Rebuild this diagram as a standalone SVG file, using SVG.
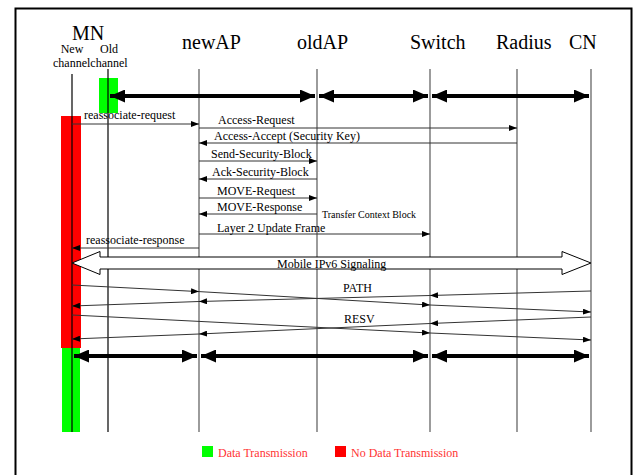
<svg xmlns="http://www.w3.org/2000/svg" width="635" height="475" viewBox="0 0 635 475">
<style>
text{font-family:"Liberation Serif","Times New Roman",serif;fill:#000}
.h{font-size:20px}
.s{font-size:12px}
.xs{font-size:10px}
.life{stroke:#666;stroke-width:1.3;fill:none}
.lifek{stroke:#000;stroke-width:1.2;fill:none}
.msg{stroke:#333;stroke-width:1;fill:none}
.thick{stroke:#000;stroke-width:4;fill:none}
.leg{fill:#ff3333;font-size:12px}
</style>
<defs>
<marker id="a" viewBox="0 0 8 6" refX="8" refY="3" markerWidth="8" markerHeight="6" markerUnits="userSpaceOnUse" orient="auto">
<path d="M0,0 L8,3 L0,6 z" fill="#000"/>
</marker>
<marker id="ta" viewBox="0 0 15 13" refX="15" refY="6.5" markerWidth="15" markerHeight="13" markerUnits="userSpaceOnUse" orient="auto-start-reverse">
<path d="M0,0 L15,6.5 L0,13 z" fill="#000"/>
</marker>
</defs>
<rect x="15.5" y="8.5" width="616" height="480" fill="none" stroke="#000" stroke-width="2"/>

<g id="state-bars">
<rect x="99" y="78" width="19" height="35" fill="#00ff00"/>
<rect x="61" y="116" width="20" height="232" fill="#ff0000"/>
<rect x="62" y="348" width="18" height="84" fill="#00ff00"/>
</g>

<g id="MN">
<text class="h" x="88" y="40" text-anchor="middle" font-size="21">MN</text>
<text class="s" x="72" y="53" text-anchor="middle">New</text>
<text class="s" x="109" y="53" text-anchor="middle">Old</text>
<text class="s" x="53" y="66.5">channelchannel</text>
<line class="lifek" x1="72" y1="74" x2="72" y2="432"/>
<line class="lifek" x1="108" y1="69" x2="108" y2="432" stroke="#222"/>
</g>
<g id="newAP">
<text class="h" x="182" y="49">newAP</text>
<line class="life" x1="199" y1="69" x2="199" y2="432" stroke="#444"/>
</g>
<g id="oldAP">
<text class="h" x="297" y="49">oldAP</text>
<line class="life" x1="317" y1="69" x2="317" y2="432"/>
</g>
<g id="Switch">
<text class="h" x="410" y="49">Switch</text>
<line class="life" x1="430" y1="69" x2="430" y2="432"/>
</g>
<g id="Radius">
<text class="h" x="496" y="49">Radius</text>
<line class="life" x1="517" y1="69" x2="517" y2="432"/>
</g>
<g id="CN">
<text class="h" x="569" y="49">CN</text>
<line class="life" x1="591" y1="69" x2="591" y2="432"/>
</g>

<g id="connectors">
<line class="thick" x1="110" y1="96" x2="315" y2="96" marker-start="url(#ta)" marker-end="url(#ta)"/>
<line class="thick" x1="319" y1="96" x2="428" y2="96" marker-start="url(#ta)" marker-end="url(#ta)"/>
<line class="thick" x1="432" y1="96" x2="589" y2="96" marker-start="url(#ta)" marker-end="url(#ta)"/>

<line class="msg" x1="72" y1="124" x2="199" y2="124" marker-end="url(#a)"/>
<text class="s" x="84" y="119">reassociate-request</text>
<line class="msg" x1="199" y1="128" x2="517" y2="128" marker-end="url(#a)"/>
<text class="s" x="218" y="124">Access-Request</text>
<line class="msg" x1="517" y1="143" x2="199" y2="143" marker-end="url(#a)"/>
<text class="s" x="214" y="140">Access-Accept (Security Key)</text>
<line class="msg" x1="199" y1="161" x2="317" y2="161" marker-end="url(#a)"/>
<text class="s" x="211" y="158">Send-Security-Block</text>
<line class="msg" x1="317" y1="179" x2="199" y2="179" marker-end="url(#a)"/>
<text class="s" x="212" y="176">Ack-Security-Block</text>
<line class="msg" x1="199" y1="198" x2="317" y2="198" marker-end="url(#a)"/>
<text class="s" x="217" y="195">MOVE-Request</text>
<line class="msg" x1="317" y1="214" x2="199" y2="214" marker-end="url(#a)"/>
<text class="s" x="217" y="211">MOVE-Response</text>
<text class="xs" x="322" y="218">Transfer Context Block</text>
<line class="msg" x1="199" y1="234" x2="430" y2="234" marker-end="url(#a)"/>
<text class="s" x="217" y="232">Layer 2 Update Frame</text>
<line class="msg" x1="199" y1="248" x2="72" y2="248" marker-end="url(#a)"/>
<text class="s" x="86" y="244">reassociate-response</text>

<polygon points="72,263 100,251.5 100,257 562,257 562,251.5 591,263 562,274.5 562,269 100,269 100,274.5" fill="#fff" stroke="#000" stroke-width="1"/>
<text class="s" x="277" y="268">Mobile IPv6 Signaling</text>

<line class="msg" x1="72" y1="285" x2="199" y2="291.6" marker-end="url(#a)"/>
<line class="msg" x1="199" y1="291.6" x2="430" y2="305" marker-end="url(#a)"/>
<line class="msg" x1="430" y1="305" x2="591" y2="312" marker-end="url(#a)"/>
<line class="msg" x1="591" y1="291" x2="430" y2="295.5" marker-end="url(#a)"/>
<line class="msg" x1="430" y1="295.5" x2="199" y2="301.5" marker-end="url(#a)"/>
<line class="msg" x1="199" y1="301.5" x2="72" y2="306" marker-end="url(#a)"/>
<text class="s" x="343" y="292">PATH</text>

<line class="msg" x1="72" y1="315" x2="430" y2="333" marker-end="url(#a)"/>
<line class="msg" x1="430" y1="333" x2="591" y2="340" marker-end="url(#a)"/>
<line class="msg" x1="591" y1="317" x2="430" y2="323.5" marker-end="url(#a)"/>
<line class="msg" x1="430" y1="323.5" x2="199" y2="334" marker-end="url(#a)"/>
<line class="msg" x1="199" y1="334" x2="72" y2="339" marker-end="url(#a)"/>
<text class="s" x="344" y="323">RESV</text>

<line class="thick" x1="74" y1="356" x2="197" y2="356" marker-start="url(#ta)" marker-end="url(#ta)"/>
<line class="thick" x1="201" y1="356" x2="428" y2="356" marker-start="url(#ta)" marker-end="url(#ta)"/>
<line class="thick" x1="432" y1="356" x2="589" y2="356" marker-start="url(#ta)" marker-end="url(#ta)"/>
</g>

<g id="legend">
<rect x="202" y="446" width="11" height="11" fill="#00ff00"/>
<text class="leg" x="218" y="457">Data Transmission</text>
<rect x="335" y="446" width="11" height="11" fill="#ff0000"/>
<text class="leg" x="351" y="457">No Data Transmission</text>
</g>
</svg>
